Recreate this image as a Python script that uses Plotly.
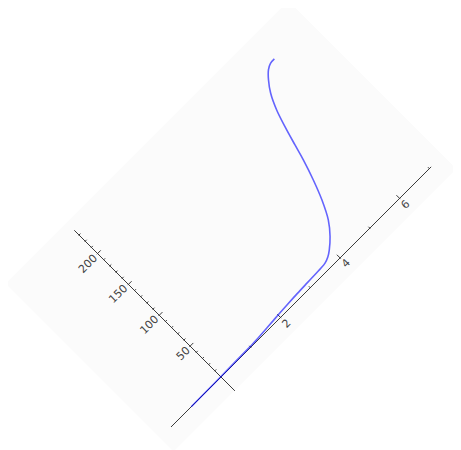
import math
import plotly.graph_objects as go

# ---------------- data ----------------
x_values = [-1.0, -0.5, 0.0, 0.5, 1.0, 1.22, 1.6, 1.84, 2.0, 2.31, 2.68, 3.02, 3.35, 3.51, 3.66,
            3.81, 3.95, 4.19, 4.44, 4.67, 4.86, 5.03, 5.14, 5.28, 5.42, 5.60, 5.79, 5.96, 6.10, 6.24]
y_values = [0.0, 0.2, 0.4, 0.7, 1.0, 1.3, 2.6, 3.4, 4.0, 4.9, 5.8, 6.4, 6.9, 7.2, 8.0,
            10.7, 15.1, 25.4, 40.3, 61.8, 84.8, 109.2, 128.0, 151.0, 171.2, 189.6, 202.3, 210.5, 214.0, 214.5]

x_major_ticks = [2, 4, 6]
x_minor_ticks = [1, 3, 5, 7]
y_major_ticks = [50, 100, 150, 200]
y_minor_ticks = [v for v in range(10, 240, 10) if v % 50 != 0]

x_axis_span = (-1.68, 7.06)
y_axis_span = (-22.5, 237.7)
frame_x_span = (-2.05, 7.45)
frame_y_span = (-22.0, 250.0)

# ---------------- rotated frame (whole chart turned 45 deg CCW) ----------------
W, H = 461, 450
ANG = math.radians(45)
KX = 42.1     # px per x unit
KY = 0.873    # px per y unit
OX, OY = 213.0, 369.0   # figure position of the data origin

EX = (math.cos(ANG), -math.sin(ANG))    # rotated-frame "right"
EY = (-math.sin(ANG), -math.cos(ANG))   # rotated-frame "up"


def page(x, y):
    return (OX + x * KX * EX[0] + y * KY * EY[0],
            OY + x * KX * EX[1] + y * KY * EY[1])


def shift(p, a, b):
    return (p[0] + a * EX[0] + b * EY[0], p[1] + a * EX[1] + b * EY[1])


AXIS_COLOR = "#3a3a3a"
LABEL_COLOR = "#444444"
FONT = "DejaVu Sans"
FSIZE = 11

shapes = []

# background panel
corners = [page(frame_x_span[0], frame_y_span[0]), page(frame_x_span[1], frame_y_span[0]),
           page(frame_x_span[1], frame_y_span[1]), page(frame_x_span[0], frame_y_span[1])]
path = "M " + " L ".join(f"{px:.2f},{py:.2f}" for px, py in corners) + " Z"
shapes.append(dict(type="path", path=path, xref="x", yref="y", layer="below",
                   fillcolor="#fbfbfb", line=dict(width=0)))


def seg(p0, p1, width=1.0):
    shapes.append(dict(type="line", xref="x", yref="y", layer="below",
                       x0=p0[0], y0=p0[1], x1=p1[0], y1=p1[1],
                       line=dict(color=AXIS_COLOR, width=width)))


# axis lines through the origin
seg(page(x_axis_span[0], 0), page(x_axis_span[1], 0))
seg(page(0, y_axis_span[0]), page(0, y_axis_span[1]))

# x ticks (pointing toward +y)
for v in x_major_ticks:
    p = page(v, 0)
    seg(shift(p, 0, -1), shift(p, 0, 4.5))
for v in x_minor_ticks:
    p = page(v, 0)
    seg(shift(p, 0, -0.5), shift(p, 0, 2))
# y ticks (pointing toward +x)
for v in y_major_ticks:
    p = page(0, v)
    seg(shift(p, -1, 0), shift(p, 4.5, 0))
for v in y_minor_ticks:
    p = page(0, v)
    seg(shift(p, -0.5, 0), shift(p, 2, 0))

annotations = []
for v in x_major_ticks:
    c = shift(page(v, 0), 0, -8.5)
    annotations.append(dict(x=c[0], y=c[1], xref="x", yref="y", text=str(v),
                            showarrow=False, textangle=-45, xanchor="center", yanchor="middle",
                            font=dict(family=FONT, size=FSIZE, color=LABEL_COLOR)))
for v in y_major_ticks:
    txt = str(v)
    w = 7.0 * len(txt)
    c = shift(page(0, v), -(3 + w / 2), 0)
    annotations.append(dict(x=c[0], y=c[1], xref="x", yref="y", text=txt,
                            showarrow=False, textangle=-45, xanchor="center", yanchor="middle",
                            font=dict(family=FONT, size=FSIZE, color=LABEL_COLOR)))

pts = [page(x, y) for x, y in zip(x_values, y_values)]
fig = go.Figure(go.Scatter(
    x=[p[0] for p in pts], y=[p[1] for p in pts], mode="lines",
    line=dict(color="rgba(0,0,255,0.6)", width=1.6, shape="spline", smoothing=1.0),
    hoverinfo="skip", showlegend=False))

fig.update_layout(
    width=W, height=H, margin=dict(l=0, r=0, t=0, b=0),
    paper_bgcolor="white", plot_bgcolor="white",
    xaxis=dict(range=[0, W], visible=False, fixedrange=True),
    yaxis=dict(range=[H, 0], visible=False, fixedrange=True),
    shapes=shapes, annotations=annotations, showlegend=False,
)
fig.write_html("out.html")
